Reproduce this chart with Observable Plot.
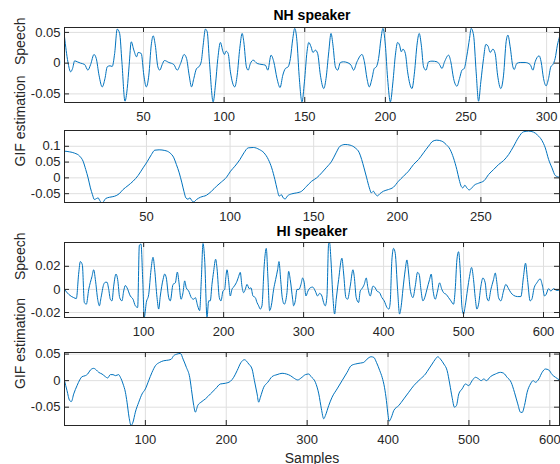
<!DOCTYPE html>
<html><head><meta charset="utf-8">
<script src="https://cdn.jsdelivr.net/npm/d3@7"></script>
<script src="https://cdn.jsdelivr.net/npm/@observablehq/plot@0.6"></script>
<style>
body{margin:0;background:#fff}
#chart{position:relative;width:560px;height:464px;background:#fff}
#chart svg{position:absolute;left:0;top:0}
</style></head><body><div id="chart"></div>
<script>
// ---- NH speaker: speech ----
const nhSpeechX = [1,3.1,4.8,6.0,7.3,8.9,11.0,13.5,15.5,17.2,19.3,20.7,22.4,24.4,26.1,27.5,29.2,30.6,32.1,33.7,35.2,36.6,38.5,39.9,41.1,42.4,44.0,45.7,46.7,48.6,50.2,51.7,53.3,54.8,56.0,57.3,58.9,60.1,61.6,63.0,65.7,68.8,70.9,73.0,75.2,76.7,78.3,79.8,81.2,82.9,84.3,85.8,87.0,88.4,89.5,90.9,93.2,94.6,96.1,97.7,99.2,100.2,101.2,102.5,103.9,106.6,108.1,109.7,111.2,112.2,113.8,114.9,116.3,118.0,120.5,123.5,125.6,127.1,129.1,130.8,132.8,134.7,136.4,138.0,139.7,141.1,142.6,143.8,145.2,146.5,148.3,149.8,151.4,152.5,153.9,155.1,156.6,158.0,159.7,161.8,163.2,164.9,166.3,167.5,169.0,170.4,172.1,174.1,176.2,178.7,180.3,182.4,185.5,187.0,188.6,190.0,191.7,193.1,194.4,195.8,197.3,198.5,200.0,201.4,203.1,204.7,206.2,207.6,208.8,209.9,210.9,212.4,213.8,216.5,218.1,219.6,221.0,222.3,223.7,225.2,226.8,228.9,232.0,233.6,235.1,236.7,239.2,240.6,242.3,244.4,246.0,247.5,248.9,250.6,252.2,253.2,254.7,256.3,257.8,259.2,260.9,262.3,263.6,265.0,266.7,268.1,269.6,271.6,273.3,274.9,276.0,277.4,279.1,279.9,281.5,283.6,286.7,289.8,291.5,292.9,295.4,296.6,298.1,299.7,301.2,302.6,303.9,305.3,306.7,308.0];
const nhSpeechY = [0.0429,0.0022,-0.0141,-0.0087,0.0038,0.0022,0,-0.0022,-0.0114,-0.0022,0.0141,0.0076,-0.0195,-0.0386,-0.025,-0.006,-0.0043,-0.0054,0.0157,0.0554,0.0483,0.0022,-0.0619,-0.0413,-0.0033,0.0348,0.0212,0.0103,0.0174,0.0157,-0.0195,-0.0386,-0.0195,0.0293,0.0445,0.0293,-0.006,-0.0114,-0.0022,0.0043,0.0011,-0.0022,-0.0114,-0.0005,0.0141,0.0076,-0.0195,-0.0386,-0.025,-0.0087,-0.006,0.0022,0.0293,0.0554,0.051,0.0022,-0.063,-0.0358,0.0076,0.0337,0.0195,0.0141,0.0195,0.0157,-0.0141,-0.0386,-0.0195,0.0239,0.0483,0.0348,-0.006,-0.0114,-0.0005,0.0049,-0.0005,-0.0022,-0.0033,-0.0114,0.013,0.0022,-0.025,-0.0396,-0.0195,-0.0087,-0.006,0.0076,0.0402,0.0565,0.0348,-0.0195,-0.063,-0.0304,0.0185,0.0337,0.0266,0.0174,0.0212,0.0157,-0.0195,-0.0413,-0.025,0.0185,0.0483,0.0293,-0.006,-0.0114,0.0011,0.0022,0.0011,-0.0033,-0.0114,0.0022,0.0141,0.0022,-0.025,-0.0386,-0.025,-0.0087,-0.006,0.0076,0.0402,0.0565,0.0293,-0.025,-0.063,-0.0304,0.013,0.0337,0.0293,0.0185,0.0228,0.0157,-0.0141,-0.0413,-0.0141,0.0293,0.0483,0.0293,-0.006,-0.0114,0.0022,0.0033,0.0022,-0.0022,-0.0087,0.0022,0.013,0.0022,-0.025,-0.0375,-0.025,-0.0114,-0.0087,0.013,0.0402,0.0565,0.0456,-0.0141,-0.0619,-0.0304,0.0076,0.0304,0.0282,0.0174,0.0228,0.0157,-0.0195,-0.0413,-0.0195,0.0348,0.0456,0.0266,-0.006,-0.0103,-0.0005,0.0011,0.0011,-0.0022,-0.0114,0.0022,0.0119,0.0022,-0.025,-0.0369,-0.025,-0.006,-0.0022,0.0076,0.0293,0.0429];

// ---- NH speaker: GIF estimation ----
const nhGifX = [1,4.1,7.1,10.1,12.1,13.7,15.1,16.5,17.7,18.9,20.1,21.1,22.1,23.3,24.5,25.6,28.0,31.0,33.6,36.0,39.0,42.0,45.0,48.0,50.4,53.0,55.0,57.6,61.0,64.0,66.4,67.9,69.6,71.2,72.4,73.6,74.8,76.0,77.1,78.3,79.9,82.3,85.9,88.9,91.9,94.9,97.9,100.3,102.9,105.9,108.3,110.9,113.9,117.5,120.3,122.9,124.9,126.8,128.2,129.4,130.6,131.8,133.0,134.2,136.8,139.8,142.8,145.8,148.8,151.8,154.8,157.8,160.8,163.4,165.8,168.8,171.8,174.8,177.3,178.7,180.1,181.7,183.3,184.5,185.7,186.7,188.1,189.7,191.7,194.7,197.7,200.7,203.7,206.7,209.7,212.7,215.7,218.7,221.3,223.6,226.6,229.2,231.6,233.6,235.6,237.0,238.2,239.2,240.4,241.6,243.0,244.6,246.0,248.6,252.0,254.6,257.6,260.6,263.6,266.6,269.6,272.6,275.5,278.5,281.5,283.9,286.5,288.5,290.5,292.5,294.5,296.9];
const nhGifY = [0.0846,0.0824,0.0782,0.0687,0.0529,0.0264,0,-0.0317,-0.0529,-0.0687,-0.0655,-0.0634,-0.0719,-0.0793,-0.074,-0.0655,-0.0613,-0.0581,-0.0507,-0.037,-0.0243,-0.0106,0.0074,0.0317,0.0507,0.074,0.0877,0.0888,0.0867,0.0793,0.0634,0.0423,0.0159,-0.0159,-0.0423,-0.0634,-0.0676,-0.0634,-0.0719,-0.0761,-0.0687,-0.0613,-0.055,-0.0423,-0.0264,-0.0127,0.0021,0.0211,0.037,0.0581,0.0793,0.0951,0.0962,0.0898,0.0793,0.0581,0.0317,-0.0053,-0.037,-0.0581,-0.0529,-0.0634,-0.0666,-0.0581,-0.0507,-0.0476,-0.0423,-0.0264,-0.0106,0,0.0159,0.0338,0.0529,0.0793,0.1004,0.1057,0.1036,0.0951,0.0793,0.0581,0.0317,0,-0.0317,-0.0476,-0.0423,-0.0497,-0.0571,-0.0497,-0.0423,-0.037,-0.0296,-0.0106,0.0053,0.0211,0.0423,0.0581,0.0793,0.1004,0.1163,0.1194,0.1163,0.1057,0.0898,0.0634,0.0264,-0.0053,-0.0264,-0.0317,-0.0233,-0.0317,-0.0381,-0.0317,-0.0233,-0.0169,-0.0085,0.0106,0.0264,0.0423,0.055,0.074,0.1004,0.129,0.1459,0.148,0.1448,0.1353,0.1184,0.0951,0.0581,0.0317,0.0074,0.0021];

// ---- HI speaker: speech ----
const hiSpeechX = [1,6.3,12.5,15.8,18.8,20.8,23.3,25.8,28.3,31.3,35.4,37.5,39.6,42.5,44.6,46.7,50.0,52.1,54.2,56.3,58.3,60.4,62.5,65.4,67.5,70.0,72.9,75.0,77.1,79.2,83.3,86.7,89.6,92.5,94.6,96.7,98.8,100.8,103.3,106.3,109.2,111.7,113.8,116.7,118.8,120.8,124.2,126.3,128.3,131.3,133.3,136.7,139.6,142.1,144.2,146.7,149.2,151.3,153.3,156.3,159.6,162.5,164.6,167.5,170.0,172.1,174.2,176.3,179.2,181.3,183.3,185.4,187.5,190.0,191.7,194.6,196.7,199.2,201.3,202.9,204.2,206.3,208.3,210.4,213.3,216.7,218.8,220.8,222.9,225.0,227.1,229.2,232.1,234.2,236.7,239.6,241.7,243.8,245.8,247.9,250.8,253.3,255.4,257.5,259.6,262.5,265.0,267.5,269.2,271.3,273.3,275.8,279.2,281.3,283.3,286.3,287.5,289.6,291.7,294.2,296.7,298.8,300.8,302.9,305.4,308.3,311.3,314.6,317.5,320.0,322.9,325.0,327.1,329.2,331.3,332.5,334.2,336.7,338.8,340.8,343.8,347.9,350.0,352.9,355.0,358.3,361.7,363.3,365.8,368.8,370.8,372.9,375.8,378.3,380.4,383.3,386.7,389.6,391.7,395.0,397.9,400.8,404.2,406.7,408.3,410.4,412.5,414.6,417.5,420.0,422.1,424.2,427.1,429.2,431.3,433.3,436.7,439.6,442.5,444.6,446.7,449.2,452.1,454.2,457.5,459.6,461.7,464.6,467.5,470.0,472.9,475.0,478.3,481.3,484.2,487.5,489.6,491.7,493.8,495.8,497.9,500.0,502.1,505.0,507.5,510.0,512.5,514.6,516.7,518.8,521.7,524.2,527.1,529.2,531.3,534.2,537.5,539.6,541.7,543.8,546.7,550.0,552.9,556.3,559.2,562.5,567.5,571.7,575.0,577.5,580.0,583.3,585.4,588.3,591.7,595.8,598.8,601.3,603.3,606.3,609.2,612.5,616.7,619.6];
const hiSpeechY = [0,-0.0043,-0.0071,-0.0079,0.0142,0.0241,0.0213,-0.0113,-0.0128,0,0.0113,0.017,0.0085,-0.0085,-0.0142,-0.0071,0.0043,0.0062,0.0062,0,-0.0085,-0.0099,0.0028,0.0133,0.0085,-0.0071,-0.0099,-0.0014,0.0034,0.0014,-0.0057,-0.0085,-0.0142,-0.0156,0.0383,0.0392,0.0085,-0.0241,-0.0113,-0.0043,0.017,0.0278,0.017,-0.0071,-0.017,-0.0057,0.0085,0.0133,0.0099,-0.0071,-0.0099,0.0043,0.0057,0.015,0.0057,-0.0085,-0.0028,0.0074,0.0014,-0.0014,-0.0071,-0.0085,-0.0071,-0.0142,-0.0184,0.0085,0.0397,0.0255,-0.0241,-0.0099,-0.0099,0.0043,0.0156,0.0261,0.0184,-0.0071,-0.0099,-0.0014,0,0.0113,0.017,0.0071,-0.0057,0,0.0028,0.0071,0.0113,0.0148,0.0028,-0.0028,0,0.0043,0.0006,0.0014,-0.0057,-0.0071,-0.0113,-0.0142,-0.017,-0.0142,0.0213,0.0355,0.0099,-0.0184,-0.0142,0,0.0085,0.017,0.0241,0.0085,-0.0071,-0.0128,-0.0028,0.0156,0.0085,-0.0085,-0.0142,-0.0099,0,0,0.0043,0.0099,0.0057,-0.0057,-0.0014,0.0014,0.002,-0.0014,-0.0057,-0.0034,-0.0057,-0.0113,-0.0142,-0.0057,0.0397,0.0403,0.0255,-0.0071,-0.0213,-0.0085,0.0085,0.027,0.0142,-0.0071,-0.0085,0.0028,0.017,0.0113,-0.0071,-0.0113,-0.0014,0.0006,0.0043,0.0099,0.0014,-0.0057,0.0028,0.0014,-0.0014,-0.0028,-0.0071,-0.0099,-0.0156,-0.017,-0.0113,0.0255,0.0355,0.0312,0,-0.0213,-0.0142,0,0.017,0.0255,0.0142,0,-0.0071,0.0028,0.0148,0.0128,0,-0.0099,-0.0057,0,0.0085,0.0133,0,-0.0085,-0.0014,0.0057,0,-0.0028,-0.0043,-0.0071,-0.0099,-0.0128,0,0.0255,0.0326,0.017,-0.0142,-0.0213,-0.0142,0,0.0113,0.019,0.0085,-0.0071,-0.017,-0.0128,0.0028,0.0099,0.0057,-0.0071,-0.0099,0,0.0085,0.0142,0.0057,-0.0071,-0.0099,-0.0014,0.0043,0.0006,-0.0028,-0.0051,-0.0062,-0.0062,0.0113,0.0227,0.0085,-0.0099,-0.0085,0.0014,0.0057,0.0091,0.0028,-0.0057,-0.0043,0.0006,-0.0014,0.0006,-0.0009,-0.0006];

// ---- HI speaker: GIF estimation ----
const hiGifX = [0,3.1,6.4,8.5,11.4,15.5,18.8,21.7,25.8,28.7,32.0,36.1,39.4,42.3,46.4,50.5,53.4,56.7,60.0,62.9,67.0,69.1,72.4,75.3,77.3,79.8,82.3,84.7,87.6,91.8,95.9,100.0,104.1,108.2,112.4,117.7,122.7,128.9,132.1,135.0,139.2,143.3,146.6,150.7,154.8,157.7,159.8,161.8,164.7,168.8,174.2,180.4,186.6,192.7,198.9,205.1,209.2,213.4,218.3,222.4,227.8,231.9,234.8,238.1,240.1,242.2,246.3,251.3,256.6,262.8,269.0,274.4,279.3,283.4,288.4,292.5,297.9,302.0,304.9,310.2,314.4,317.6,320.5,322.6,326.7,330.8,337.0,343.2,349.4,354.3,359.7,365.9,370.0,374.1,379.1,382.4,385.7,389.8,392.7,395.6,398.0,400.1,401.3,404.2,407.1,413.3,419.5,425.6,431.8,440.1,446.3,450.4,454.5,458.6,461.5,464.8,469.0,473.1,476.3,479.2,482.1,484.6,487.5,491.6,495.7,499.8,504.0,508.1,512.2,515.1,518.4,521.7,526.6,532.8,539.0,543.1,547.2,552.2,556.3,560.4,563.7,565.8,568.7,572.0,576.1,579.4,582.3,586.4,590.5,594.6,598.8,602.9,607.0,612.0];
const hiGifY = [0,-0.0188,-0.0375,-0.0394,-0.025,-0.0094,0.0013,0.0075,0.0094,0.0125,0.02,0.0231,0.02,0.0156,0.0125,0.0075,0.005,0.0113,0.0113,0.0094,0.0113,0.0063,-0.0063,-0.0219,-0.0406,-0.0688,-0.0844,-0.0781,-0.0594,-0.0406,-0.025,-0.0156,0,0.0156,0.0281,0.0344,0.0375,0.0388,0.0406,0.0469,0.05,0.0513,0.0406,0.025,0.0063,-0.025,-0.0469,-0.0594,-0.0469,-0.0406,-0.0344,-0.025,-0.0156,-0.0063,-0.005,-0.0013,0.0063,0.0188,0.0344,0.0394,0.0313,0.0219,0,-0.025,-0.0406,-0.0313,-0.0125,-0.0031,0.0075,0.0113,0.0138,0.0125,0.0094,0.005,0.0013,0.005,0.0113,0.0125,0.0075,-0.0031,-0.025,-0.0531,-0.0719,-0.0656,-0.0469,-0.0313,-0.0156,0,0.0156,0.0281,0.0313,0.0331,0.0344,0.0406,0.045,0.0438,0.0344,0.0188,0.0063,-0.0125,-0.0375,-0.0656,-0.0763,-0.0688,-0.0563,-0.0469,-0.0344,-0.0219,-0.0094,0.0031,0.0125,0.0219,0.0313,0.0406,0.045,0.0406,0.0313,0.0188,-0.0063,-0.0313,-0.05,-0.0469,-0.025,-0.0156,-0.0063,-0.0094,0,0.0063,0.0031,0,0.0031,0,0.0075,0.0125,0.0156,0.0138,0.0063,-0.0031,-0.0219,-0.0438,-0.0594,-0.06,-0.0469,-0.0219,-0.0063,0,-0.0031,0.0031,0.0156,0.0219,0.02,0.0113,0.0063,0.0013];

// ---- titles, labels, ticks ----
const titles = ["NH speaker", "HI speaker"];
const yLabels = ["Speech", "GIF estimation", "Speech", "GIF estimation"];
const xLabel = "Samples";
const xTicks1 = [50,100,150,200,250,300];
const xTicks2 = [50,100,150,200,250];
const xTicks34 = [100,200,300,400,500,600];
const yTicks1 = [-0.05,0,0.05];
const yTicks2 = [-0.05,0,0.05,0.1];
const yTicks3 = [-0.02,0,0.02];
const yTicks4 = [-0.05,0,0.05];

const W = 560, H = 464, ML = 64, MR = 1;
const FONT = "'Liberation Sans', Arial, Helvetica, sans-serif";
const INK = "#262626", GRID = "#dfdfdf", BLUE = "#0072BD";

function panel({xs, ys, xDomain, yDomain, xTicks, yTicks, top, bottom, ylabel, extra = []}) {
  const fh = H - top - bottom, fw = W - ML - MR;
  const data = xs.map((x, i) => ({x, y: ys[i]}));
  return Plot.plot({
    width: W, height: H,
    marginLeft: ML, marginRight: MR, marginTop: top, marginBottom: bottom,
    style: {fontFamily: FONT, fontSize: "13px", color: INK, background: "transparent", overflow: "visible"},
    x: {domain: xDomain, ticks: xTicks, tickSize: 0, tickPadding: 9, label: null, tickFormat: d => String(d)},
    y: {domain: yDomain, ticks: yTicks, tickSize: 0, tickPadding: 4, label: null, tickFormat: d => String(d)},
    marks: [
      Plot.ruleX(xTicks, {stroke: GRID}),
      Plot.ruleY(yTicks, {stroke: GRID}),
      Plot.line(data, {x: "x", y: "y", stroke: BLUE, strokeWidth: 1, curve: "monotone-x", clip: true}),
      Plot.tickX(xTicks, {x: d => d, stroke: INK, insetTop: fh - 5}),
      Plot.tickX(xTicks, {x: d => d, stroke: INK, insetBottom: fh - 5}),
      Plot.tickY(yTicks, {y: d => d, stroke: INK, insetLeft: fw - 5}),
      Plot.tickY(yTicks, {y: d => d, stroke: INK, insetRight: fw - 5}),
      Plot.frame({stroke: INK}),
      Plot.text([ylabel], {frameAnchor: "left", rotate: -90, dx: 24 - ML, lineAnchor: "bottom", fontSize: 14, fill: INK}),
      ...extra
    ]
  });
}

const chart = document.getElementById("chart");
chart.append(panel({xs: nhSpeechX, ys: nhSpeechY, xDomain: [1, 308], yDomain: [-0.064, 0.058],
  xTicks: xTicks1, yTicks: yTicks1, top: 27, bottom: H - 102, ylabel: yLabels[0],
  extra: [Plot.text([titles[0]], {frameAnchor: "top", dy: -7.5, lineAnchor: "bottom", fontWeight: "bold", fontSize: 14, fill: "#000"})]}));
chart.append(panel({xs: nhGifX, ys: nhGifY, xDomain: [1, 297], yDomain: [-0.078, 0.15],
  xTicks: xTicks2, yTicks: yTicks2, top: 130, bottom: H - 202, ylabel: yLabels[1]}));
chart.append(panel({xs: hiSpeechX, ys: hiSpeechY, xDomain: [1, 620], yDomain: [-0.0243, 0.0406],
  xTicks: xTicks34, yTicks: yTicks3, top: 242, bottom: H - 317, ylabel: yLabels[2],
  extra: [Plot.text([titles[1]], {frameAnchor: "top", dy: -6.5, lineAnchor: "bottom", fontWeight: "bold", fontSize: 14, fill: "#000"})]}));
chart.append(panel({xs: hiGifX, ys: hiGifY, xDomain: [0, 612], yDomain: [-0.0845, 0.053],
  xTicks: xTicks34, yTicks: yTicks4, top: 352, bottom: H - 425, ylabel: yLabels[3],
  extra: [Plot.text([xLabel], {frameAnchor: "bottom", dy: 37, lineAnchor: "bottom", fontSize: 14, fill: INK})]}));
</script>
</body></html>
